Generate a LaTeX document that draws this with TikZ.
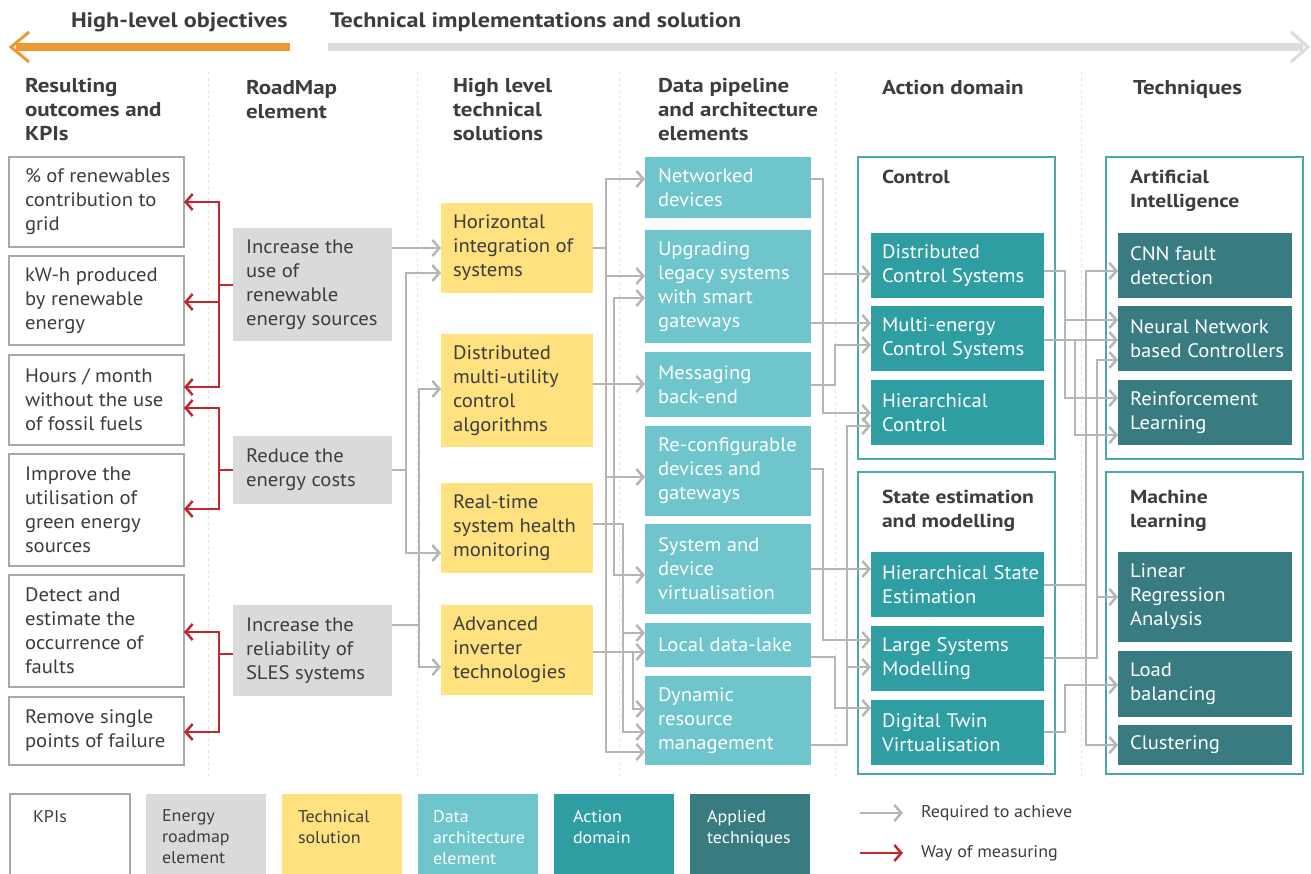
\documentclass[tikz,border=0pt]{standalone}
\usepackage{fontspec}
\setmainfont{PT Sans}[FakeStretch=1.06]
\newfontfamily\hfont{PT Sans}[FakeStretch=1.15]
\usetikzlibrary{arrows.meta}
\definecolor{txt}{HTML}{3D3D3D}
\definecolor{kpiborder}{HTML}{A8A8A8}
\definecolor{roadgray}{HTML}{DADADA}
\definecolor{techyellow}{HTML}{FFE17F}
\definecolor{datateal}{HTML}{6EC5CC}
\definecolor{actteal}{HTML}{2E9EA2}
\definecolor{tqteal}{HTML}{387B80}
\definecolor{contline}{HTML}{4AA8AC}
\definecolor{conngray}{HTML}{B5B5B5}
\definecolor{measred}{HTML}{C1272D}
\definecolor{orangearr}{HTML}{EE9933}
\definecolor{grayarr}{HTML}{DCDCDC}
\definecolor{sepgray}{HTML}{E3E3E3}
\newcommand\mkbox[8]{%
  \node[#1, minimum width=#5pt, minimum height=#6pt, anchor=north west] (#2) at (#3,#4) {};
  \node[#1 text, anchor=west] (#2t) at ([xshift=#7pt]#2.west) {#8};}
\begin{document}
\begin{tikzpicture}[x=1pt,y=-1pt,
  every node/.style={inner sep=0pt, outer sep=0pt},
  body/.style={font=\fontsize{19.5}{24}\selectfont, align=left},
  kpi/.style={draw=kpiborder, line width=2pt, fill=white},
  kpi text/.style={body, text=txt},
  road/.style={fill=roadgray}, road text/.style={body, text=txt},
  tech/.style={fill=techyellow}, tech text/.style={body, text=txt},
  data/.style={fill=datateal}, data text/.style={body, text=white},
  act/.style={fill=actteal}, act text/.style={body, text=white},
  tq/.style={fill=tqteal}, tq text/.style={body, text=white},
  cont/.style={draw=contline, line width=1.5pt},
  ctitle/.style={font=\hfont\bfseries\fontsize{18.8}{24}\selectfont, align=left, text=txt, anchor=north west},
  conn/.style={draw=conngray, line width=2.5pt},
  arr/.style={conn, -{Straight Barb[length=7pt,width=16pt]}},
  rarr/.style={draw=measred, line width=2.5pt, -{Straight Barb[length=7pt,width=16pt]}},
  head/.style={font=\hfont\bfseries\fontsize{20}{24}\selectfont, align=left, text=txt, anchor=north west},
  title/.style={font=\hfont\bfseries\fontsize{21}{24}\selectfont, text=txt, anchor=west},
  legtext/.style={font=\fontsize{17}{21}\selectfont, align=left, anchor=north west},
  leglabel/.style={font=\fontsize{17}{21}\selectfont, text=txt, anchor=west},
  sep/.style={draw=sepgray, dashed, line width=1pt}
]
\useasboundingbox (0,0) rectangle (1311,874);

% ---- header arrows
\draw[orangearr, line width=8pt] (290,47) -- (16,47);
\draw[orangearr, line width=3pt] (29,32) -- (11,47) -- (29,62);
\draw[grayarr, line width=8pt] (328,47) -- (1303,47);
\draw[grayarr, line width=3pt] (1291,32) -- (1308,47) -- (1291,62);
\node[title] (hlo) at (71,22) {High-level objectives};
\node[title] (tis) at (330,22) {Technical implementations and solution};

% ---- column headers
\node[head] (h1) at (25,78) {Resulting\\outcomes and\\KPIs};
\node[head] (h2) at (246,80) {RoadMap\\element};
\node[head] (h3) at (453,78) {High level\\technical\\solutions};
\node[head] (h4) at (658,78) {Data pipeline\\and architecture\\elements};
\node[head] (h5) at (882,80) {Action domain};
\node[head] (h6) at (1133,80) {Techniques};

% ---- separators
\foreach \x in {208,417,619,835,1081} \draw[sep] (\x,72) -- (\x,776);

% ---- containers
\node[cont, minimum width=197pt, minimum height=302pt, anchor=north west] (ctl) at (858,157) {};
\node[cont, minimum width=197pt, minimum height=302pt, anchor=north west] (sem) at (858,472) {};
\node[cont, minimum width=197pt, minimum height=302pt, anchor=north west] (ai) at (1106,157) {};
\node[cont, minimum width=197pt, minimum height=302pt, anchor=north west] (ml) at (1106,472) {};
\node[ctitle] (ctlt) at (882,170) {Control};
\node[ctitle] (semt) at (882,490) {State estimation\\and modelling};
\node[ctitle] (ait) at (1130,170) {Artificial\\Intelligence};
\node[ctitle] (mlt) at (1130,490) {Machine\\learning};

% ---- KPI boxes
\mkbox{kpi}{b1}{9}{157}{175}{90}{16}{\% of renewables\\contribution to\\grid}
\mkbox{kpi}{b2}{9}{256}{175}{89}{16}{kW-h produced\\by renewable\\energy}
\mkbox{kpi}{b3}{9}{355}{175}{90}{16}{Hours / month\\without the use\\of fossil fuels}
\mkbox{kpi}{b4}{9}{454}{175}{112}{16}{Improve the\\utilisation of\\green energy\\sources}
\mkbox{kpi}{b5}{9}{575}{175}{112}{16}{Detect and\\estimate the\\occurrence of\\faults}
\mkbox{kpi}{b6}{9}{697}{175}{68}{16}{Remove single\\points of failure}

% ---- roadmap boxes
\mkbox{road}{r1}{233}{228}{159}{113}{13}{Increase the\\use of\\renewable\\energy sources}
\mkbox{road}{r2}{233}{436}{159}{68}{13}{Reduce the\\energy costs}
\mkbox{road}{r3}{233}{605}{159}{91}{13}{Increase the\\reliability of\\SLES systems}

% ---- technical solutions
\mkbox{tech}{t1}{441}{203}{152}{90}{12}{Horizontal\\integration of\\systems}
\mkbox{tech}{t2}{441}{334}{152}{113}{12}{Distributed\\multi-utility\\control\\algorithms}
\mkbox{tech}{t3}{441}{483}{152}{90}{12}{Real-time\\system health\\monitoring}
\mkbox{tech}{t4}{441}{605}{152}{90}{12}{Advanced\\inverter\\technologies}

% ---- data pipeline
\mkbox{data}{d1}{645}{157}{166}{61}{13}{Networked\\devices}
\mkbox{data}{d2}{645}{230}{166}{113}{13}{Upgrading\\legacy systems\\with smart\\gateways}
\mkbox{data}{d3}{645}{352}{166}{65}{13}{Messaging\\back-end}
\mkbox{data}{d4}{645}{426}{166}{90}{13}{Re-configurable\\devices and\\gateways}
\mkbox{data}{d5}{645}{524}{166}{90}{13}{System and\\device\\virtualisation}
\mkbox{data}{d6}{645}{623}{166}{44}{13}{Local data-lake}
\mkbox{data}{d7}{645}{676}{166}{89}{13}{Dynamic\\resource\\management}

% ---- action domain
\mkbox{act}{a1}{871}{233}{173}{65}{11}{Distributed\\Control Systems}
\mkbox{act}{a2}{871}{306}{173}{65}{11}{Multi-energy\\Control Systems}
\mkbox{act}{a3}{871}{380}{173}{65}{11}{Hierarchical\\Control}
\mkbox{act}{a4}{871}{552}{173}{65}{11}{Hierarchical State\\Estimation}
\mkbox{act}{a5}{871}{626}{173}{65}{11}{Large Systems\\Modelling}
\mkbox{act}{a6}{871}{700}{173}{65}{11}{Digital Twin\\Virtualisation}

% ---- techniques
\mkbox{tq}{q1}{1118}{233}{174}{65}{12}{CNN fault\\detection}
\mkbox{tq}{q2}{1118}{306}{174}{65}{12}{Neural Network\\based Controllers}
\mkbox{tq}{q3}{1118}{380}{174}{65}{12}{Reinforcement\\Learning}
\mkbox{tq}{q4}{1118}{552}{174}{90}{12}{Linear\\Regression\\Analysis}
\mkbox{tq}{q5}{1118}{651}{174}{66}{12}{Load\\balancing}
\mkbox{tq}{q6}{1118}{725}{174}{40}{12}{Clustering}

% ---- red: way of measuring
\draw[rarr] (r1.west |- 0,285) -| (219,202) -- (b1.east |- 0,202);
\draw[rarr] (r1.west |- 0,285) -| (219,302) -- (b2.east |- 0,302);
\draw[rarr] (r1.west |- 0,285) -| (219,387) -- (b3.east |- 0,387);
\draw[rarr] (r2.west |- 0,470) -| (219,408) -- (b3.east |- 0,408);
\draw[rarr] (r2.west |- 0,470) -| (219,509) -- (b4.east |- 0,509);
\draw[rarr] (r3.west |- 0,654) -| (219,632) -- (b5.east |- 0,632);
\draw[rarr] (r3.west |- 0,654) -| (219,732) -- (b6.east |- 0,732);

% ---- gray: roadmap -> technical
\draw[arr] (r1.east |- 0,248) -- (t1.west |- 0,248);
\draw[arr] (r2.east |- 0,470) -| (406,273) -- (t1.west |- 0,273);
\draw[arr] (r2.east |- 0,470) -| (406,553) -- (t3.west |- 0,553);
\draw[arr] (r3.east |- 0,625) -| (419,389) -- (t2.west |- 0,389);
\draw[arr] (r3.east |- 0,625) -| (419,667) -- (t4.west |- 0,667);

% ---- technical -> data
\foreach \y/\d in {179/d1,276/d2,477/d4,752/d7}
  \draw[arr] (t1.east |- 0,248) -| (606,\y) -- (\d.west |- 0,\y);
\draw[arr] (t2.east |- 0,384) -- (d3.west |- 0,384);
\foreach \y/\d/\x in {298/d2/614,575/d5/614,633/d6/623,732/d7/623}
  \draw[arr] (t3.east |- 0,524) -| (\x,\y) -- (\d.west |- 0,\y);
\draw[arr] (t4.east |- 0,652) -- (d6.west |- 0,652);
\draw[arr] (t4.east |- 0,652) -| (633,709) -- (d7.west |- 0,709);

% ---- data -> action
\draw[arr] (d1.east |- 0,179) -| (823,274) -- (a1.west |- 0,274);
\draw[arr] (d1.east |- 0,179) -| (823,413) -- (a3.west |- 0,413);
\draw[arr] (d2.east |- 0,323) -- (a2.west |- 0,323);
\draw[arr] (d3.east |- 0,385) -| (835,345) -- (a2.west |- 0,345);
\draw[arr] (d4.east |- 0,469) -| (823,640) -- (a5.west |- 0,640);
\draw[arr] (d5.east |- 0,569) -- (a4.west |- 0,569);
\draw[arr] (d6.east |- 0,657) -| (835,708) -- (a6.west |- 0,708);
\draw[arr] (d7.east |- 0,745) -| (847,426) -- (a3.west |- 0,426);
\draw[arr] (d7.east |- 0,745) -| (847,667) -- (a5.west |- 0,667);

% ---- action -> techniques
\draw[arr] (a1.east |- 0,271) -| (1065,320) -- (q2.west |- 0,320);
\draw[arr] (a1.east |- 0,271) -| (1065,398) -- (q3.west |- 0,398);
\draw[arr] (a2.east |- 0,340) -- (q2.west |- 0,340);
\draw[arr] (a2.east |- 0,340) -| (1075,435) -- (q3.west |- 0,435);
\draw[arr] (a4.east |- 0,585) -| (1086,271) -- (q1.west |- 0,271);
\draw[arr] (a4.east |- 0,585) -| (1086,745) -- (q6.west |- 0,745);
\draw[arr] (a5.east |- 0,658) -| (1097,360) -- (q2.west |- 0,360);
\draw[arr] (a5.east |- 0,658) -| (1097,597) -- (q4.west |- 0,597);
\draw[arr] (a6.east |- 0,732) -| (1065,685) -- (q5.west |- 0,685);

% ---- legend
\node[kpi, minimum width=120pt, minimum height=100pt, anchor=north west] (lk) at (10,794) {};
\node[legtext, text=txt] (lkt) at (33,810) {KPIs};
\node[road, minimum width=120pt, minimum height=100pt, anchor=north west] (lr) at (146,794) {};
\node[legtext, text=txt] (lrt) at (162,810) {Energy\\roadmap\\element};
\node[tech, minimum width=120pt, minimum height=100pt, anchor=north west] (lt) at (282,794) {};
\node[legtext, text=txt] (ltt) at (298,810) {Technical\\solution};
\node[data, minimum width=120pt, minimum height=100pt, anchor=north west] (ld) at (418,794) {};
\node[legtext, text=white] (ldt) at (433,810) {Data\\architecture\\element};
\node[act, minimum width=120pt, minimum height=100pt, anchor=north west] (la) at (554,794) {};
\node[legtext, text=white] (lat) at (573,810) {Action\\domain};
\node[tq, minimum width=120pt, minimum height=100pt, anchor=north west] (lq) at (690,794) {};
\node[legtext, text=white] (lqt) at (707,810) {Applied\\techniques};

\coordinate (lg1s) at (860,813); \coordinate (lg1e) at (903,813);
\coordinate (lg2s) at (860,853); \coordinate (lg2e) at (903,853);
\draw[arr] (lg1s) -- (lg1e);
\draw[rarr] (lg2s) -- (lg2e);
\node[leglabel] (lgt1) at (921,813) {Required to achieve};
\node[leglabel] (lgt2) at (921,853) {Way of measuring};
\end{tikzpicture}
\end{document}
